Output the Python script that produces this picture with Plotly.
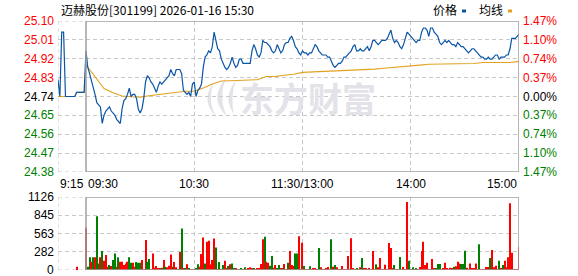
import plotly.graph_objects as go

# ---------------- data ----------------
title_text = "迈赫股份[301199] 2026-01-16 15:30"
prev_close = 24.74
max_pct = 1.47

price_tick_labels = ["25.10", "25.01", "24.92", "24.83", "24.74", "24.65", "24.56", "24.47", "24.38"]
pct_tick_labels = ["1.47%", "1.10%", "0.74%", "0.37%", "0.00%", "0.37%", "0.74%", "1.10%", "1.47%"]
vol_tick_values = [1126, 845, 563, 282, 0]
vol_tick_labels = ["1126", "845", "563", "282", "0"]
time_tick_labels = ["9:15", "09:30", "10:30", "11:30/13:00", "14:00", "15:00"]
time_tick_minutes = [-15, 0, 60, 120, 180, 240]

# pre-market (call auction) 09:15 .. 09:29, minutes after 09:15
pre_minutes = [0, 1, 2, 3, 4, 5, 6, 7, 8, 9, 10, 11, 12, 13, 14]
pre_price = [24.82, 24.74, 25.05, 25.05, 24.74, 24.74, 24.74, 24.74, 24.74, 24.74,
             24.76, 24.76, 24.76, 24.76, 24.76]
pre_avg = [24.74, 24.74, 24.74, 24.74, 24.74, 24.74, 24.74, 24.74, 24.74, 24.74,
           24.76, 24.76, 24.76, 24.76, 24.76]
pre_vol_minutes = [10]
pre_vol = [51]
pre_vol_dir = [1]

# trading minutes 0..240 (09:30-11:30, 13:00-15:00)
price = [
    24.96, 24.88, 24.85, 24.82, 24.78, 24.75, 24.71, 24.70, 24.69, 24.61,
    24.65, 24.67, 24.68, 24.69, 24.67, 24.66, 24.65, 24.63, 24.62, 24.61,
    24.68, 24.72, 24.73, 24.75, 24.78, 24.74, 24.75, 24.75, 24.73, 24.68,
    24.66, 24.68, 24.73, 24.81, 24.84, 24.83, 24.81, 24.80, 24.78, 24.76,
    24.79, 24.81, 24.80, 24.81, 24.82, 24.83, 24.84, 24.87, 24.85, 24.84,
    24.87, 24.87, 24.87, 24.85, 24.77, 24.76, 24.75, 24.76, 24.74, 24.80,
    24.81, 24.74, 24.77, 24.78, 24.80, 24.88, 24.93, 24.94, 24.96, 24.95,
    24.98, 25.05, 25.01, 24.97, 24.96, 24.92, 24.90, 24.88, 24.87, 24.88,
    24.90, 24.93, 24.90, 24.88, 24.89, 24.92, 24.92, 24.90, 24.90, 24.90,
    24.90, 24.90, 24.96, 24.99, 24.97, 24.94, 24.93, 24.95, 25.01, 25.00,
    25.00, 24.99, 24.98, 24.96, 24.95, 24.96, 24.99, 24.97, 24.95, 24.96,
    24.99, 25.00, 25.00, 25.02, 25.03, 25.01, 24.98, 24.97, 24.95, 24.94,
    24.96, 24.95, 24.95, 24.94, 24.95, 24.95, 24.97, 24.99, 24.98, 24.96,
    24.95, 24.94, 24.94, 24.94, 24.93, 24.93, 24.91, 24.89, 24.88, 24.89,
    24.90, 24.90, 24.91, 24.93, 24.93, 24.94, 24.95, 24.96, 24.98, 24.99,
    24.96, 24.96, 24.97, 24.96, 24.96, 24.97, 24.98, 24.96, 24.98, 25.01,
    25.01, 25.00, 24.99, 25.00, 25.01, 25.01, 25.01, 25.02, 25.04, 25.06,
    25.02, 25.00, 25.01, 25.00, 24.98, 24.97, 24.99, 25.02, 25.05, 25.04,
    25.03, 25.02, 25.01, 25.00, 25.01, 25.01, 25.05, 25.07, 25.07, 25.06,
    25.03, 25.07, 25.07, 25.05, 25.04, 25.03, 25.00, 24.99, 25.00, 25.01,
    25.00, 25.01, 25.00, 24.99, 24.99, 24.98, 25.00, 24.99, 24.98, 24.98,
    24.97, 24.96, 24.95, 24.96, 24.97, 24.97, 24.96, 24.95, 24.94, 24.93,
    24.93, 24.92, 24.92, 24.93, 24.92, 24.92, 24.93, 24.94, 24.94, 24.92,
    24.93, 24.93, 24.93, 24.94, 24.94, 24.97, 25.02, 25.02, 25.02, 25.03, 25.04,
]

avg_minutes = [0, 5, 10, 15, 20, 25, 30, 35, 40, 45, 50, 55, 60,
               65, 70, 75, 80, 85, 90, 95, 100, 105, 110, 115, 120,
               125, 130, 135, 140, 145, 150, 155, 160, 165, 170, 175, 180,
               185, 190, 195, 200, 205, 210, 215, 220, 225, 230, 235, 240]
avg_price = [24.893, 24.837, 24.778, 24.758, 24.742, 24.739, 24.737, 24.744, 24.749, 24.752, 24.758, 24.765, 24.766,
             24.781, 24.800, 24.815, 24.816, 24.818, 24.820, 24.821, 24.836, 24.837, 24.842, 24.847, 24.856,
             24.858, 24.861, 24.863, 24.863, 24.864, 24.868, 24.869, 24.872, 24.876, 24.879, 24.882, 24.886,
             24.891, 24.895, 24.896, 24.896, 24.899, 24.899, 24.899, 24.904, 24.904, 24.904, 24.904, 24.909]

volume = [
    650, 51, 195, 128, 195, 195, 829, 102, 195, 292,
    143, 230, 51, 77, 61, 154, 256, 51, 195, 128,
    128, 77, 102, 128, 195, 113, 113, 51, 123, 113,
    113, 154, 15, 461, 128, 169, 15, 256, 36, 61,
    26, 26, 36, 154, 51, 41, 67, 241, 51, 123,
    41, 15, 276, 640, 20, 26, 87, 26, 15, 15,
    15, 26, 87, 51, 246, 502, 102, 435, 450, 87,
    154, 486, 348, 10, 123, 10, 77, 143, 26, 61,
    87, 102, 26, 20, 15, 15, 26, 15, 41, 15,
    20, 41, 20, 20, 15, 26, 20, 92, 476, 512,
    128, 113, 67, 215, 36, 77, 20, 77, 20, 20,
    92, 10, 113, 292, 77, 61, 256, 256, 522, 15,
    420, 61, 15, 15, 56, 15, 26, 20, 15, 338,
    41, 15, 15, 20, 46, 15, 476, 51, 77, 41,
    15, 15, 61, 15, 15, 215, 15, 491, 20, 15,
    31, 15, 41, 184, 20, 26, 15, 26, 15, 292,
    15, 87, 41, 184, 15, 15, 82, 15, 415, 338,
    20, 77, 15, 15, 200, 15, 46, 15, 1049, 143,
    15, 41, 15, 20, 15, 46, 292, 435, 77, 113,
    15, 15, 169, 31, 26, 92, 92, 15, 26, 113,
    20, 15, 36, 26, 51, 56, 128, 102, 92, 92,
    297, 36, 15, 102, 31, 31, 102, 15, 399, 15,
    15, 15, 46, 46, 184, 307, 41, 67, 15, 143,
    31, 77, 143, 41, 195, 1029, 266, 15, 15, 15, 358,
]
volume_dir = [
    1, -1, -1, 1, -1, 1, -1, -1, 1, -1,
    1, 1, 1, -1, 1, -1, -1, 1, -1, 1,
    1, 1, 1, 1, -1, -1, 1, 1, -1, -1,
    -1, 1, 1, 1, -1, -1, 1, 1, 1, 1,
    1, 1, -1, 1, -1, 1, 1, 1, -1, 1,
    1, -1, 1, -1, 1, -1, 1, -1, 1, 1,
    1, -1, -1, 1, 1, 1, -1, 1, 1, 1,
    1, 1, -1, 1, -1, 1, -1, 1, 1, -1,
    1, -1, -1, 1, -1, 1, -1, 1, -1, 1,
    1, 1, 1, -1, 1, 1, 1, 1, 1, -1,
    1, 1, -1, -1, 1, 1, -1, -1, 1, -1,
    1, 1, -1, 1, 1, 1, -1, -1, 1, 1,
    1, -1, 1, 1, -1, 1, 1, 1, 1, -1,
    1, 1, 1, 1, 1, 1, -1, 1, -1, 1,
    1, 1, 1, 1, 1, 1, 1, 1, 1, 1,
    -1, 1, 1, -1, 1, 1, 1, 1, 1, 1,
    1, -1, 1, 1, 1, 1, 1, 1, 1, 1,
    1, -1, 1, 1, -1, 1, 1, 1, 1, -1,
    1, -1, 1, -1, 1, 1, 1, 1, 1, 1,
    1, 1, 1, 1, -1, -1, -1, 1, 1, 1,
    1, 1, 1, 1, -1, 1, 1, 1, -1, -1,
    -1, 1, 1, 1, 1, 1, 1, 1, -1, 1,
    1, 1, 1, 1, -1, 1, 1, 1, 1, -1,
    1, -1, 1, 1, 1, 1, 1, -1, 1, 1, 1,
]

# ---------------- styling / layout constants ----------------
W, H = 578, 276
ML, MR, MT, MB = 58, 59, 21, 6
PLOT_W = W - ML - MR
PLOT_H = H - MT - MB
PRICE_BOTTOM_PX = 172
VOL_TOP_PX = 197
PRE_SPAN = 15.52  # width of 09:15-09:30 zone in trading-minute units

BLUE = "#0b55a6"
ORANGE = "#e1a21f"
UP = "#ff0000"
DOWN = "#008000"
FLAT = "#000000"
GRID = "#c8c8c8"
FRAME = "#a0a0a0"
WATER = "#e2e2e8"
FONT = "Liberation Sans, Arial, sans-serif"
CJK = "Noto Sans CJK SC, sans-serif"


def pre_pos(t):
    return (t - 15) * PRE_SPAN / 15.0


def px_x(px):
    return (px - ML) / PLOT_W


def px_y(py):
    return (H - MB - py) / PLOT_H


lo = prev_close * (1 - max_pct / 100)
hi = prev_close * (1 + max_pct / 100)
levels = [hi - i * (hi - lo) / 8 for i in range(9)]
XMIN, XMAX = -PRE_SPAN, 240

main_minutes = list(range(len(price)))
x_price = [pre_pos(t) for t in pre_minutes] + main_minutes
y_price = pre_price + price
x_avg = [pre_pos(t) for t in pre_minutes] + avg_minutes
y_avg = pre_avg + avg_price
x_vol = [pre_pos(t) for t in pre_vol_minutes] + main_minutes
y_vol = pre_vol + volume
vol_colors = [UP if d > 0 else DOWN for d in pre_vol_dir + volume_dir]

fig = go.Figure()
fig.add_trace(go.Scatter(x=x_avg, y=y_avg, mode="lines", line=dict(color=ORANGE, width=1.1),
                         xaxis="x", yaxis="y", hoverinfo="skip", showlegend=False))
fig.add_trace(go.Scatter(x=x_price, y=y_price, mode="lines", line=dict(color=BLUE, width=1.2),
                         xaxis="x", yaxis="y", hoverinfo="skip", showlegend=False))
fig.add_trace(go.Bar(x=x_vol, y=y_vol, marker=dict(color=vol_colors, line=dict(width=0)), width=0.6,
                     xaxis="x2", yaxis="y2", hoverinfo="skip", showlegend=False))

price_dom = [px_y(PRICE_BOTTOM_PX), 1]
vol_dom = [0, px_y(VOL_TOP_PX)]

axis_common = dict(showticklabels=False, zeroline=False, showline=False, ticks="",
                   showgrid=True, gridcolor=GRID, griddash="4px,3px", gridwidth=1)
fig.update_layout(
    width=W, height=H, margin=dict(l=ML, r=MR, t=MT, b=MB),
    paper_bgcolor="white", plot_bgcolor="white",
    xaxis=dict(domain=[0, 1], range=[XMIN, XMAX], anchor="y", tickvals=[60, 120, 180], **axis_common),
    yaxis=dict(domain=price_dom, range=[lo, hi], anchor="x", tickvals=levels[1:-1], **axis_common),
    xaxis2=dict(domain=[0, 1], range=[XMIN, XMAX], anchor="y2", tickvals=[60, 120, 180], **axis_common),
    yaxis2=dict(domain=vol_dom, range=[0, vol_tick_values[0]], anchor="x2", tickvals=vol_tick_values[1:-1], **axis_common),
    showlegend=False,
)

shapes = []
dash = "4px,3px"
# dashed pre-market edges and solid session frames
for yref, ylo, yhi in [("y", lo, hi), ("y2", 0, vol_tick_values[0])]:
    xr = "x" if yref == "y" else "x2"
    shapes.append(dict(type="line", xref=xr, yref=yref, x0=XMIN, x1=XMIN, y0=ylo, y1=yhi,
                       line=dict(color=GRID, width=1, dash=dash), layer="below"))
    for yy in (ylo, yhi):
        shapes.append(dict(type="line", xref=xr, yref=yref, x0=XMIN, x1=0, y0=yy, y1=yy,
                           line=dict(color=GRID, width=1, dash=dash), layer="below"))
    shapes.append(dict(type="rect", xref=xr, yref=yref, x0=0, x1=XMAX, y0=ylo, y1=yhi,
                       line=dict(color=FRAME, width=1.5), fillcolor="rgba(0,0,0,0)", layer="above"))


def pth(points):
    s = "M {:.4f},{:.4f}".format(px_x(points[0][0]), px_y(points[0][1]))
    i = 1
    while i < len(points):
        c, p = points[i], points[i + 1]
        s += " Q {:.4f},{:.4f} {:.4f},{:.4f}".format(px_x(c[0]), px_y(c[1]), px_x(p[0]), px_y(p[1]))
        i += 2
    return s + " Z"


# watermark logo (light feathers)
for feather in [
    [(214, 82), (200, 100), (216, 117), (207, 100), (214, 82)],
    [(226, 78), (208, 98), (227, 117), (218, 98), (226, 78)],
    [(236, 80), (222, 98), (234, 114), (230, 97), (236, 80)],
]:
    shapes.append(dict(type="path", xref="paper", yref="paper", path=pth(feather),
                       fillcolor=WATER, line=dict(width=0), layer="below"))

# legend squares
shapes.append(dict(type="rect", xref="paper", yref="paper", x0=px_x(462), x1=px_x(466), y0=px_y(12.5), y1=px_y(9.5),
                   fillcolor=BLUE, line=dict(width=0)))
shapes.append(dict(type="rect", xref="paper", yref="paper", x0=px_x(508), x1=px_x(512), y0=px_y(12.5), y1=px_y(9.5),
                   fillcolor=ORANGE, line=dict(width=0)))
fig.update_layout(shapes=shapes)

ann = []
ann.append(dict(text="<b>东方财富</b>", xref="paper", yref="paper", x=px_x(308), y=px_y(98), showarrow=False,
                font=dict(family=CJK, size=34, color=WATER), xanchor="center", yanchor="middle"))
ann.append(dict(text=title_text, xref="paper", yref="paper", x=px_x(59), y=px_y(9.5), showarrow=False,
                font=dict(family=CJK, size=12, color="#000000"), xanchor="left", yanchor="middle"))
ann.append(dict(text="价格", xref="paper", yref="paper", x=px_x(431), y=px_y(10), showarrow=False,
                font=dict(family=CJK, size=12, color="#000000"), xanchor="left", yanchor="middle"))
ann.append(dict(text="均线", xref="paper", yref="paper", x=px_x(477), y=px_y(10), showarrow=False,
                font=dict(family=CJK, size=12, color="#000000"), xanchor="left", yanchor="middle"))

for lvl, lab, plab in zip(levels, price_tick_labels, pct_tick_labels):
    d = round(lvl - prev_close, 4)
    col = UP if d > 0.001 else (DOWN if d < -0.001 else FLAT)
    ann.append(dict(text=lab, xref="paper", yref="y", x=px_x(56), y=lvl, showarrow=False,
                    font=dict(family=FONT, size=12, color=col), xanchor="right", yanchor="middle"))
    ann.append(dict(text=plab, xref="paper", yref="y", x=px_x(521), y=lvl, showarrow=False,
                    font=dict(family=FONT, size=12, color=col), xanchor="left", yanchor="middle"))

for v, lab in zip(vol_tick_values, vol_tick_labels):
    ann.append(dict(text=lab, xref="paper", yref="y2", x=px_x(56), y=v, showarrow=False,
                    font=dict(family=FONT, size=12, color="#000000"), xanchor="right", yanchor="middle"))

for m, lab in zip(time_tick_minutes, time_tick_labels):
    if m < 0:
        xv, anchor = pre_pos(0), "left"
    elif m == 0:
        xv, anchor = 0, "left"
    elif m == 240:
        xv, anchor = 240, "right"
    else:
        xv, anchor = m, "center"
    ann.append(dict(text=lab, xref="x", yref="paper", x=xv, y=px_y(184), showarrow=False,
                    font=dict(family=FONT, size=12, color="#000000"), xanchor=anchor, yanchor="middle"))

fig.update_layout(annotations=ann)
fig.write_html("out.html", config={"displayModeBar": False})
